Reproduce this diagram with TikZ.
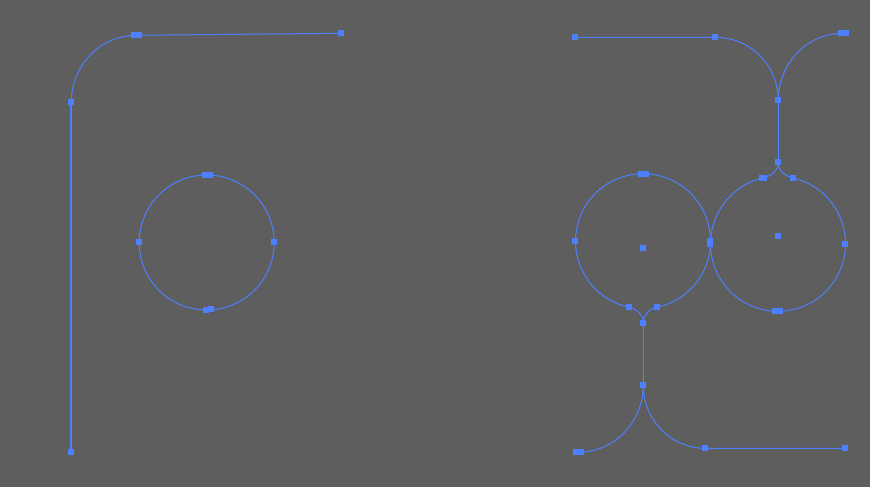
\documentclass[tikz,border=0pt]{standalone}
\usetikzlibrary{calc}
\definecolor{bgGray}{RGB}{94,94,94}
\definecolor{pathBlue}{RGB}{77,128,255}

\begin{document}
\begin{tikzpicture}[x=1pt, y=1pt,
    curve/.style={pathBlue, line width=1pt},
    handle/.style={fill=pathBlue, inner sep=0pt, minimum width=6pt, minimum height=6pt},
    handlewide/.style={handle, minimum width=11pt},
    handletall/.style={handle, minimum height=9pt}]

    % Background
    \fill[bgGray] (0,0) rectangle (870,487);
    \useasboundingbox (0,0) rectangle (870,487);

    % Left figure: corner path
    \coordinate (a1) at (71.3,35);
    \coordinate (a2) at (71.3,384.7);
    \coordinate (a3) at (136.7,451.7);
    \coordinate (a4) at (341.3,453.7);
    \draw[curve, line width=2pt] (a1) -- (a2);
    \draw[curve] (a2) to[out=90, in=180] (a3) -- (a4);

    % Left figure: circle
    \coordinate (c1) at (206.7,244.5);
    \coordinate (c1n) at (207.3,312);
    \coordinate (c1w) at (139.3,244.7);
    \coordinate (c1e) at (274.3,244.7);
    \coordinate (c1s) at (206.3,176.7);
    \coordinate (c1t) at (211,178);
    \draw[curve] (c1) circle[radius=67.5];

    % Right figure: top branch
    \coordinate (r1) at (575.3,449.7);
    \coordinate (r2) at (715.3,449.7);
    \coordinate (r3) at (778.3,386.7);
    \coordinate (r4) at (843,453.7);
    \coordinate (r5) at (778.3,324.7);
    \draw[curve] (r1) -- (r2) to[out=0, in=90] (r3);
    \draw[curve] (r4) to[out=180, in=90] (r3) -- (r5);

    % Right figure: right circle
    \coordinate (cr) at (778,243.2);
    \coordinate (crm) at (778.3,250.7);
    \coordinate (cre) at (845.3,242.7);
    \coordinate (crs) at (777.3,175.7);
    \coordinate (mid) at (710.3,244);
    \path (cr) ++(103:67.5) coordinate (crA) (cr) ++(77:67.5) coordinate (crB);
    \draw[curve] (crA) arc[start angle=103, end angle=437, radius=67.5];
    \draw[curve] (crA) to[out=13, in=-90] (r5);
    \draw[curve] (crB) to[out=167, in=-90] (r5);

    % Right figure: left circle
    \coordinate (cl) at (643,245.8);
    \coordinate (clm) at (643.3,238.7);
    \coordinate (cln) at (643.3,313.3);
    \coordinate (clw) at (575.3,245.7);
    \coordinate (s1) at (643.3,164);
    \path (cl) ++(-102:67.5) coordinate (clA) (cl) ++(-78:67.5) coordinate (clB);
    \draw[curve] (clB) arc[start angle=-78, end angle=258, radius=67.5];
    \draw[curve] (clA) to[out=-12, in=90] (s1);
    \draw[curve] (clB) to[out=-168, in=90] (s1);

    % Right figure: bottom branch
    \coordinate (s2) at (643.3,101.7);
    \coordinate (b1) at (578,34.7);
    \coordinate (b2) at (705.3,38.7);
    \coordinate (b3) at (845.3,38.7);
    \draw[curve] (s1) -- (s2);
    \draw[curve] (s2) to[out=-90, in=0] (b1);
    \draw[curve] (s2) to[out=-90, in=180] (b2) -- (b3);

    % Anchor points
    \foreach \p in {a1,a2,a4,c1w,c1e,c1s,c1t,r1,r2,r3,r5,crB,cre,crm,clm,clw,clA,clB,s1,s2,b2,b3}
        \node[handle] (h-\p) at (\p) {};
    \foreach \p in {a3,c1n,r4,cln,crs,b1}
        \node[handlewide] (h-\p) at (\p) {};
    \node[handletall] (h-mid) at (mid) {};
    \node[handle, minimum width=7.5pt] (h-crA) at (crA) {};

\end{tikzpicture}
\end{document}
